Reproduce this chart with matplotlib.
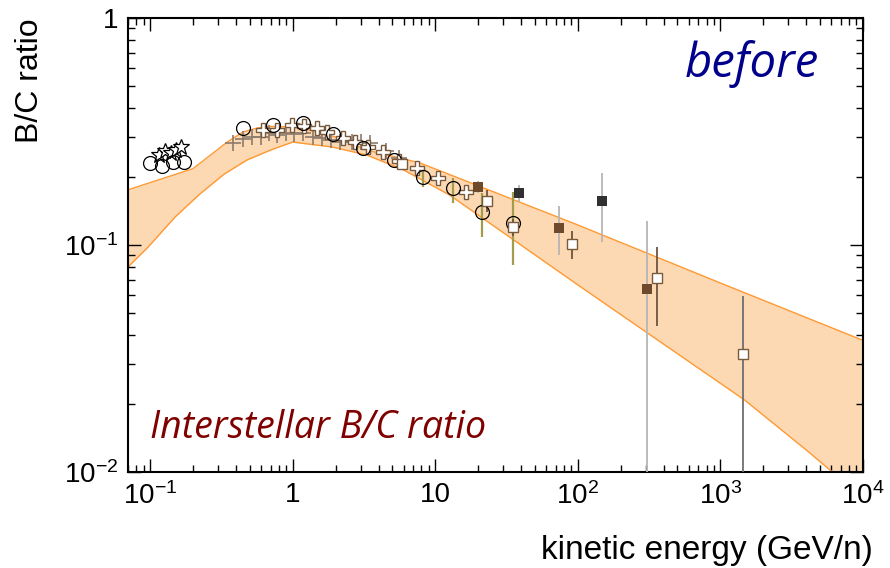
import matplotlib

matplotlib.use("Agg")
import matplotlib.pyplot as plt
import numpy as np
from matplotlib.ticker import FixedLocator, FixedFormatter, LogLocator, NullFormatter

plt.rcParams["font.family"] = ["Liberation Sans", "DejaVu Sans"]
plt.rcParams["mathtext.fontset"] = "custom"
plt.rcParams["mathtext.rm"] = "Liberation Sans"
plt.rcParams["mathtext.it"] = "Liberation Sans:italic"

# propagation band (upper / lower edge)
band_up_e = [0.07, 0.2, 0.35, 0.45, 0.57, 0.7, 1.0, 1.4, 2.0, 3.3, 7.8, 100, 1000, 1e4]
band_up_v = [0.175, 0.217, 0.285, 0.315, 0.328, 0.333, 0.331, 0.318, 0.299, 0.262, 0.230, 0.1225, 0.068, 0.038]
band_lo_e = [0.07, 0.097, 0.15, 0.224, 0.33, 0.479, 0.7, 1.0, 1.91, 3.31, 6.0, 12.6, 100, 1470, 4000, 6100, 1e4]
band_lo_v = [0.080, 0.098, 0.133, 0.168, 0.205, 0.237, 0.262, 0.284, 0.270, 0.249, 0.214, 0.166, 0.0667,
             0.0208, 0.0125, 0.0100, 0.0078]

# open circles
circ_e = [0.1, 0.121, 0.144, 0.173, 0.451, 0.731, 1.19, 1.92, 3.1, 5.1, 8.2, 13.4, 21.4, 35]
circ_v = [0.230, 0.223, 0.233, 0.233, 0.327, 0.338, 0.346, 0.308, 0.267, 0.237, 0.200, 0.178, 0.140, 0.125]
# olive error bars on some circles
circ_err_e = [8.2, 13.4, 21.4, 35]
circ_err_v = [0.200, 0.178, 0.140, 0.125]
circ_err_lo = [0.180, 0.153, 0.108, 0.0816]
circ_err_hi = [0.215, 0.197, 0.170, 0.171]

# stars
star_e = [0.115, 0.127, 0.14, 0.152, 0.165]
star_v = [0.250, 0.260, 0.255, 0.262, 0.271]

# thin grey crosses
plus_e = [0.38, 0.45, 0.52, 0.6, 0.68, 0.78, 0.9, 1.03, 1.18, 1.38, 1.6, 1.85, 2.15, 2.6, 3.0, 3.5, 4.5, 5.6]
plus_v = [0.281, 0.293, 0.300, 0.298, 0.311, 0.305, 0.311, 0.308, 0.311, 0.300, 0.295, 0.290, 0.284,
          0.284, 0.283, 0.281, 0.260, 0.242]

# thick open crosses
cross_e = [0.62, 0.78, 0.99, 1.2, 1.47, 1.73, 2.24, 2.74, 3.4, 4.28, 5.6, 7.5, 10.5, 16.4]
cross_v = [0.320, 0.322, 0.338, 0.335, 0.328, 0.315, 0.296, 0.284, 0.270, 0.257, 0.235, 0.218, 0.197, 0.171]

# open squares
osq_e = [5.8, 23.2, 35, 91, 360, 1440]
osq_v = [0.228, 0.156, 0.120, 0.101, 0.0713, 0.0331]
osq_lo = [0.215, 0.140, 0.110, 0.0865, 0.0441, 0.005]
osq_hi = [0.240, 0.175, 0.130, 0.1156, 0.0977, 0.0598]

# filled brown squares
bsq_e = [20, 74, 305]
bsq_v = [0.181, 0.119, 0.064]
bsq_lo = [0.170, 0.0903, 0.005]
bsq_hi = [0.192, 0.148, 0.127]

# filled dark squares
dsq_e = [38.5, 148]
dsq_v = [0.169, 0.156]
dsq_lo = [0.155, 0.1035]
dsq_hi = [0.184, 0.208]

x_ticks = [0.1, 1, 10, 100, 1000, 10000]
x_labels = ["$10^{-1}$", "1", "10", "$10^{2}$", "$10^{3}$", "$10^{4}$"]
y_ticks = [0.01, 0.1, 1]
y_labels = ["$10^{-2}$", "$10^{-1}$", "1"]

BROWN = "#6e4a2c"
DARK = "#303030"
EDGE = "#7a5a3c"

fig = plt.figure(figsize=(8.9, 5.68), dpi=100)
ax = fig.add_axes([128 / 890, 1 - 472 / 568, (863 - 128) / 890, (472 - 18) / 568])
ax.set_xscale("log")
ax.set_yscale("log")
ax.set_xlim(0.07, 1e4)
ax.set_ylim(0.01, 1)

# band
grid_e = np.logspace(np.log10(0.07), 4, 400)
up = 10 ** np.interp(np.log10(grid_e), np.log10(band_up_e), np.log10(band_up_v))
lo = 10 ** np.interp(np.log10(grid_e), np.log10(band_lo_e), np.log10(band_lo_v))
ax.fill_between(grid_e, lo, up, color="#fdd9b3", lw=0, zorder=1)
ax.plot(band_up_e, band_up_v, color="#ff9933", lw=1.0, zorder=2)
ax.plot(band_lo_e, band_lo_v, color="#ff9933", lw=1.0, zorder=2)


# error bars
def vbars(e, v, lo_, hi_, color, lw=1.3):
    v = np.array(v)
    ax.errorbar(e, v, yerr=[v - np.array(lo_), np.array(hi_) - v], fmt="none",
                ecolor=color, elinewidth=lw, capsize=0, zorder=3)


vbars(circ_err_e, circ_err_v, circ_err_lo, circ_err_hi, "#a39c4c", 1.6)
vbars(bsq_e, bsq_v, bsq_lo, bsq_hi, "#b5b5b5")
vbars(dsq_e, dsq_v, dsq_lo, dsq_hi, "#b5b5b5")
vbars(osq_e[:5], osq_v[:5], osq_lo[:5], osq_hi[:5], "#6b5540")
vbars(osq_e[5:], osq_v[5:], osq_lo[5:], osq_hi[5:], "#6f6f6f")

# markers
ax.plot(plus_e, plus_v, ls="none", marker="+", ms=11, mew=1.2, color="#8c7b6e", zorder=4)
ax.plot(cross_e, cross_v, ls="none", marker="P", ms=10, mew=1.0, mfc="white", mec=EDGE, zorder=5)
ax.plot(star_e, star_v, ls="none", marker="*", ms=12, mew=0.9, mfc="white", mec="black", zorder=5)
ax.plot(circ_e, circ_v, ls="none", marker="o", ms=10, mew=0.9, mfc="none", mec="black", zorder=6)
ax.plot(osq_e, osq_v, ls="none", marker="s", ms=7.5, mew=1.0, mfc="white", mec=EDGE, zorder=6)
ax.plot(bsq_e, bsq_v, ls="none", marker="s", ms=7.5, mew=0, color=BROWN, zorder=6)
ax.plot(dsq_e, dsq_v, ls="none", marker="s", ms=7.5, mew=0, color=DARK, zorder=6)

# axes style
for s in ax.spines.values():
    s.set_linewidth(1.5)
ax.xaxis.set_major_locator(FixedLocator(x_ticks))
ax.xaxis.set_major_formatter(FixedFormatter(x_labels))
ax.xaxis.set_minor_locator(LogLocator(base=10, subs=np.arange(2, 10), numticks=20))
ax.xaxis.set_minor_formatter(NullFormatter())
ax.yaxis.set_major_locator(FixedLocator(y_ticks))
ax.yaxis.set_major_formatter(FixedFormatter(y_labels))
ax.yaxis.set_minor_locator(LogLocator(base=10, subs=np.arange(2, 10), numticks=20))
ax.yaxis.set_minor_formatter(NullFormatter())
ax.tick_params(which="both", direction="in", top=True, right=True, width=1.0)
ax.tick_params(which="major", length=9.5, labelsize=20, pad=7)
ax.tick_params(which="minor", length=5)

fig.text(30 / 890, 1 - 18 / 568, "B/C ratio", rotation=90, ha="center", va="top", fontsize=23)
fig.text(873 / 890, 1 - 559 / 568, "kinetic energy (GeV/n)", ha="right", va="baseline", fontsize=24)

ax.text(0.94, 0.87, "before", transform=ax.transAxes, ha="right", va="baseline",
        fontsize=34, style="italic", color="#00008b", family=["Open Sans", "DejaVu Sans"])
ax.text(0.03, 0.075, "Interstellar B/C ratio", transform=ax.transAxes, ha="left", va="baseline",
        fontsize=27, style="italic", color="#800000", family=["Open Sans", "DejaVu Sans"])

fig.savefig("out.png", dpi=100)
